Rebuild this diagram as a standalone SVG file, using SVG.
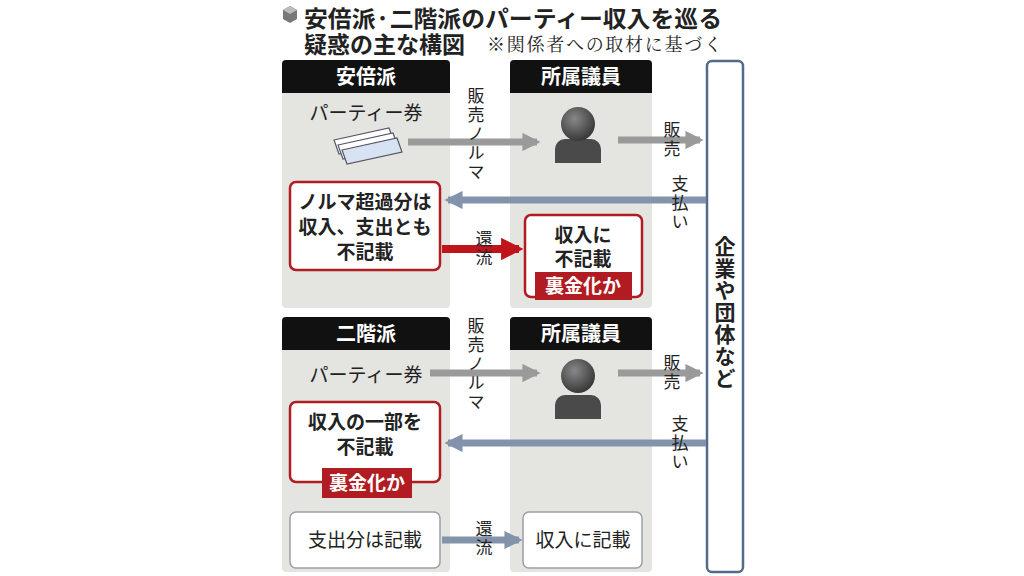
<svg xmlns="http://www.w3.org/2000/svg" width="1024" height="576" viewBox="0 0 1024 576">
<style>
text{font-family:"Noto Sans CJK JP","Noto Sans",sans-serif;fill:#222}
.b{font-weight:bold}
.pan{fill:#e4e4e1}
.hd{fill:#111}
.hdt{fill:#fff;font-weight:bold;font-size:20px;text-anchor:middle}
.m{font-size:19px;text-anchor:middle}
.v{font-size:17px;writing-mode:vertical-rl;letter-spacing:2px}
.rb{fill:#fff;stroke:#b01c22;stroke-width:2.5}
.wb{fill:#fff;stroke:#9aa0a8;stroke-width:1.5}
.tag{fill:#b01c22}
.tagt{fill:#fff;font-weight:bold;font-size:19px;text-anchor:middle}
.ga{stroke:#9a9a9a;stroke-width:7;fill:none}
.ba{stroke:#8393ab;stroke-width:7;fill:none}
.ra{stroke:#c0141c;stroke-width:8;fill:none}
</style>
<defs>
<marker id="ag" viewBox="0 0 10 10" refX="8" refY="5" markerWidth="2.6" markerHeight="2.6" orient="auto"><path d="M0,0L10,5L0,10z" fill="#9a9a9a"/></marker>
<marker id="ab" viewBox="0 0 10 10" refX="8" refY="5" markerWidth="2.6" markerHeight="2.6" orient="auto"><path d="M0,0L10,5L0,10z" fill="#8393ab"/></marker>
<marker id="ar" viewBox="0 0 10 10" refX="8" refY="5" markerWidth="2.8" markerHeight="2.8" orient="auto"><path d="M0,0L10,5L0,10z" fill="#c0141c"/></marker>
<radialGradient id="hg" cx="0.4" cy="0.35" r="0.7"><stop offset="0" stop-color="#888"/><stop offset="1" stop-color="#333"/></radialGradient>
</defs>
<rect width="1024" height="576" fill="#fff"/>
<g id="title">
<path d="M283,10l7,-4l7,4v9l-7,4l-7,-4z" fill="#777"/><path d="M283,10l7,4l7,-4l-7,-4z" fill="#bbb"/>
<text x="304" y="27" class="b" font-size="23" textLength="418" lengthAdjust="spacingAndGlyphs">安倍派·二階派のパーティー収入を巡る</text>
<text x="304" y="53" class="b" font-size="23">疑惑の主な構図</text>
<text x="487" y="51" font-size="18" style="font-family:'Noto Serif CJK JP','Liberation Serif',serif" fill="#444" textLength="235">※関係者への取材に基づく</text>
</g>
<g id="abe">
<rect class="pan" x="282" y="60" width="168" height="248" rx="4"/>
<path class="hd" d="M282,93V64a4,4 0 0 1 4,-4h160a4,4 0 0 1 4,4v29z"/>
<text x="366" y="84" class="hdt">安倍派</text>
<text x="366" y="120" class="m">パーティー券</text>
<g stroke="#556" stroke-width="1.2" fill="#fff">
<path d="M334,140l55,-12l5,14l-55,12z"/><path d="M338,145l55,-12l5,14l-55,12z"/><path d="M342,150l55,-12l5,14l-55,12z" fill="#d7e2f2"/>
</g>
</g>
<g id="abe-member">
<rect class="pan" x="510" y="60" width="142" height="248" rx="4"/>
<path class="hd" d="M510,93V64a4,4 0 0 1 4,-4h134a4,4 0 0 1 4,4v29z"/>
<text x="581" y="84" class="hdt">所属議員</text>
<path d="M555,163v-14a10,10 0 0 1 10,-10h26a10,10 0 0 1 10,10v14z" fill="#4a4a4a"/>
<circle cx="578" cy="124" r="17" fill="url(#hg)"/>
</g>
<g id="nikai">
<rect class="pan" x="282" y="317" width="168" height="255" rx="4"/>
<path class="hd" d="M282,350V321a4,4 0 0 1 4,-4h160a4,4 0 0 1 4,4v29z"/>
<text x="366" y="341" class="hdt">二階派</text>
<text x="366" y="382" class="m">パーティー券</text>
</g>
<g id="nikai-member">
<rect class="pan" x="510" y="317" width="142" height="255" rx="4"/>
<path class="hd" d="M510,350V321a4,4 0 0 1 4,-4h134a4,4 0 0 1 4,4v29z"/>
<text x="581" y="341" class="hdt">所属議員</text>
<path d="M555,419v-14a10,10 0 0 1 10,-10h26a10,10 0 0 1 10,10v14z" fill="#4a4a4a"/>
<circle cx="578" cy="376" r="17" fill="url(#hg)"/>
</g>
<g id="companies">
<rect x="707" y="61" width="36" height="511" rx="5" fill="#fff" stroke="#556a88" stroke-width="2.5"/>
<text x="725" y="236" class="b" font-size="21" style="writing-mode:vertical-rl;letter-spacing:1px">企業や団体など</text>
</g>
<g id="connectors">
<path class="ga" d="M408,142H537" marker-end="url(#ag)"/>
<path class="ga" d="M618,140H700" marker-end="url(#ag)"/>
<path class="ba" d="M706,200H448" marker-end="url(#ab)"/>
<path class="ra" d="M442,249H519" marker-end="url(#ar)"/>
<path class="ga" d="M430,373H537" marker-end="url(#ag)"/>
<path class="ga" d="M618,373H700" marker-end="url(#ag)"/>
<path class="ba" d="M706,443H448" marker-end="url(#ab)"/>
<path class="ba" d="M442,540H519" marker-end="url(#ab)"/>
</g>
<g id="labels">
<text x="476" y="87" class="v">販売ノルマ</text>
<text x="672" y="121" class="v">販売</text>
<text x="680" y="175" class="v">支払い</text>
<text x="484" y="230" class="v">還流</text>
<text x="476" y="317" class="v">販売ノルマ</text>
<text x="672" y="354" class="v">販売</text>
<text x="680" y="415" class="v">支払い</text>
<text x="484" y="520" class="v">還流</text>
</g>
<g id="abe-box">
<rect class="rb" x="290" y="182" width="150" height="88" rx="6"/>
<g font-size="19" text-anchor="middle">
<text x="365" y="209" class="b">ノルマ超過分は</text><text x="365" y="234" class="b">収入、支出とも</text><text x="365" y="259" class="b">不記載</text>
</g>
</g>
<g id="abe-member-box">
<rect class="rb" x="525" y="215" width="117" height="82" rx="6"/>
<text x="583" y="242" class="b m">収入に</text><text x="583" y="266" class="b m">不記載</text>
<rect class="tag" x="535" y="272" width="97" height="28"/>
<text x="583" y="293" class="tagt">裏金化か</text>
</g>
<g id="nikai-box">
<rect class="rb" x="290" y="402" width="150" height="80" rx="6"/>
<text x="365" y="429" class="b m">収入の一部を</text><text x="365" y="454" class="b m">不記載</text>
<rect class="tag" x="322" y="468" width="90" height="30"/>
<text x="367" y="490" class="tagt">裏金化か</text>
</g>
<g id="nikai-exp">
<rect class="wb" x="290" y="512" width="150" height="56" rx="6"/>
<text x="365" y="547" class="m">支出分は記載</text>
</g>
<g id="nikai-member-box">
<rect class="wb" x="523" y="512" width="119" height="56" rx="6"/>
<text x="583" y="547" class="m">収入に記載</text>
</g>
</svg>
